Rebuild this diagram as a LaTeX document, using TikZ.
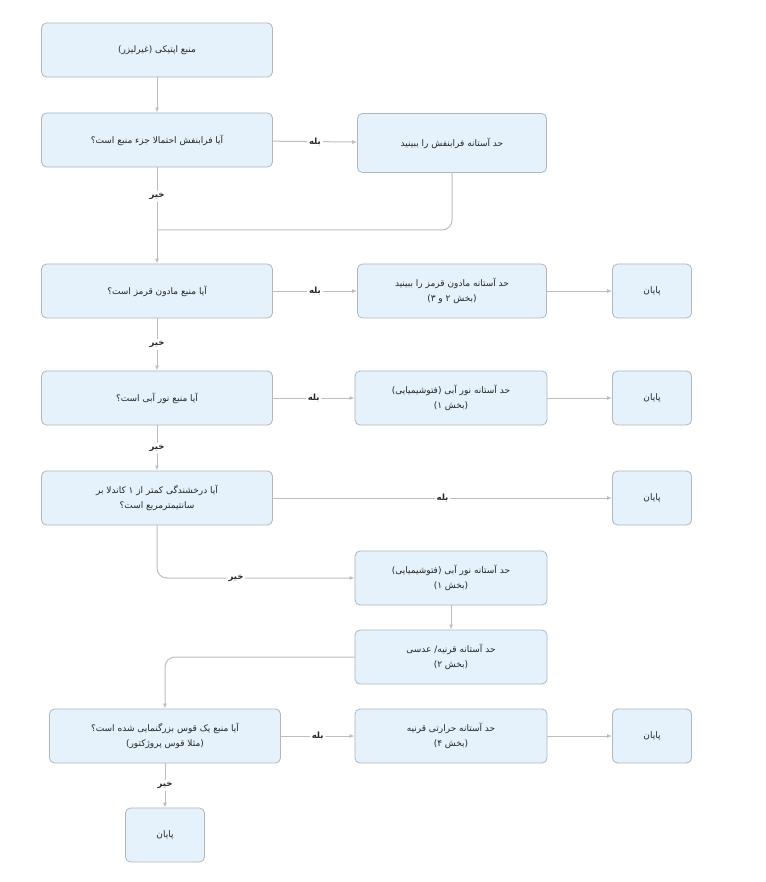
\documentclass[tikz,border=0pt]{standalone}
\usepackage{fontspec}
\newfontfamily\farsi[Script=Arabic]{DejaVu Sans}
\usetikzlibrary{arrows.meta}
\TeXXeTstate=1
\newcommand{\fa}[1]{\beginR #1\endR}
\definecolor{bfill}{HTML}{E6F2FB}
\definecolor{bdraw}{HTML}{AEB6BF}
\definecolor{arr}{HTML}{BDBDBD}
\begin{document}
\begin{tikzpicture}[x=1pt,y=-1pt,
 box/.style={draw=bdraw,fill=bfill,rounded corners=5pt,minimum height=54pt,align=center,font=\farsi\fontsize{9}{15}\selectfont,text=black!85,line width=0.8pt},
 q/.style={box,minimum width=231pt},
 m/.style={box,minimum width=192pt},
 e/.style={box,minimum width=79pt},
 ar/.style={draw=arr,line width=1pt,-{Latex[length=5pt,width=4pt]},rounded corners=10pt},
 lab/.style={font=\farsi\bfseries\fontsize{8.5}{10}\selectfont,fill=white,inner sep=2pt,text=black!85}]
\useasboundingbox (0,0) rectangle (765,882);
\node[q] (n1) at (157,50) {\fa{منبع اپتیکی (غیرلیزر)}};
\node[q] (q1) at (157,140) {\fa{آیا فرابنفش احتمالا جزء منبع است؟}};
\node[box,minimum width=189pt,minimum height=59pt] (uv) at (452,143) {\fa{حد آستانه فرابنفش را ببینید}};
\node[q] (q2) at (157,291) {\fa{آیا منبع مادون قرمز است؟}};
\node[box,minimum width=189pt] (red) at (452,291) {\fa{حد آستانه مادون قرمز را ببینید}\\\fa{(بخش ۲ و ۳)}};
\node[e] (e1) at (652,291) {\fa{پایان}};
\node[q] (q3) at (157,398) {\fa{آیا منبع نور آبی است؟}};
\node[m] (b1) at (451,398) {\fa{حد آستانه نور آبی (فتوشیمیایی)}\\\fa{(بخش ۱)}};
\node[e] (e2) at (652,398) {\fa{پایان}};
\node[q] (q4) at (157,498) {\fa{آیا درخشندگی کمتر از ۱ کاندلا بر}\\\fa{سانتیمترمربع است؟}};
\node[e] (e3) at (652,498) {\fa{پایان}};
\node[m] (b2) at (451,578) {\fa{حد آستانه نور آبی (فتوشیمیایی)}\\\fa{(بخش ۱)}};
\node[m] (c) at (451,657) {\fa{حد آستانه قرنیه/ عدسی}\\\fa{(بخش ۲)}};
\node[q] (q5) at (165,736) {\fa{آیا منبع یک قوس بزرگنمایی شده است؟}\\\fa{(مثلا قوس پروژکتور)}};
\node[m] (t) at (451,736) {\fa{حد آستانه حرارتی قرنیه}\\\fa{(بخش ۴)}};
\node[e] (e4) at (652,736) {\fa{پایان}};
\node[e] (e5) at (165,835) {\fa{پایان}};
\coordinate (j) at (157,230);
\draw[ar] (n1) -- (q1);
\draw[ar] (q1) -- node[lab]{\fa{بله}} (uv);
\draw[ar] (q1) -- node[lab,pos=0.3]{\fa{خیر}} (q2);
\draw[draw=arr,line width=1pt,rounded corners=10pt] (uv.south) |- (j);
\draw[ar] (q2) -- node[lab]{\fa{بله}} (red);
\draw[ar] (red) -- (e1);
\draw[ar] (q2) -- node[lab]{\fa{خیر}} (q3);
\draw[ar] (q3) -- node[lab]{\fa{بله}} (b1);
\draw[ar] (b1) -- (e2);
\draw[ar] (q3) -- node[lab]{\fa{خیر}} (q4);
\draw[ar] (q4) -- node[lab]{\fa{بله}} (e3);
\draw[ar] (q4.south) |- node[lab,pos=0.7]{\fa{خیر}} (b2.west);
\draw[ar] (b2) -- (c);
\draw[ar] (c.west) -| (q5.north);
\draw[ar] (q5) -- node[lab]{\fa{بله}} (t);
\draw[ar] (t) -- (e4);
\draw[ar] (q5) -- node[lab]{\fa{خیر}} (e5);
\end{tikzpicture}
\end{document}
